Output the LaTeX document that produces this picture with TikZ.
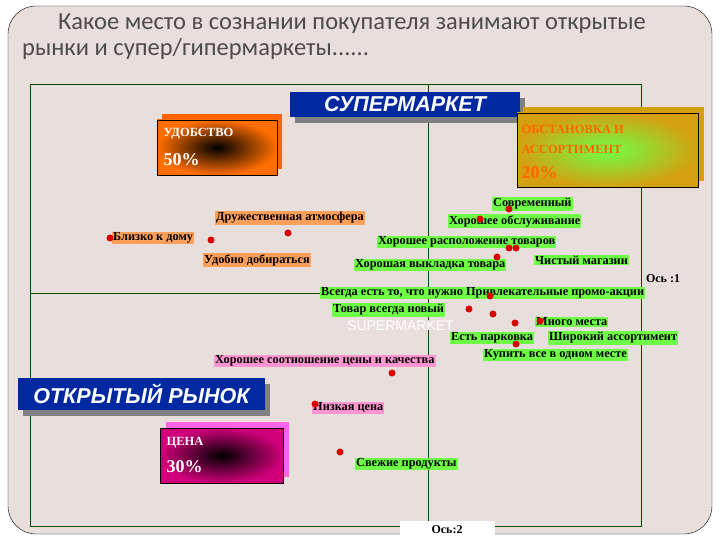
\documentclass[tikz,border=0pt]{standalone}
\usepackage{fontspec}
\setmainfont{Liberation Serif}
\newfontfamily\titlefont{Carlito}
\newfontfamily\boxfont{Liberation Sans}
\definecolor{bgc}{RGB}{232,223,220}
\definecolor{orng}{RGB}{255,110,0}
\definecolor{gold}{RGB}{212,160,16}
\definecolor{magc}{RGB}{208,0,122}
\definecolor{pinkc}{RGB}{255,100,230}
\definecolor{lorange}{RGB}{255,160,90}
\definecolor{lgreen}{RGB}{110,255,70}
\definecolor{lpink}{RGB}{255,150,210}
\definecolor{dblue}{RGB}{0,40,160}
\begin{document}
\begin{tikzpicture}[x=1pt,y=-1pt,
  lab/.style={anchor=west,inner sep=1pt,font=\fontsize{12.3}{13}\selectfont\bfseries,text=black},
  og/.style={lab,fill=lorange},
  gr/.style={lab,fill=lgreen},
  pk/.style={lab,fill=lpink},
  dot/.style={circle,fill=red!85!black,inner sep=0pt,minimum size=7pt},
  bluebox/.style={fill=dblue,text=white,font=\boxfont\bfseries\itshape\fontsize{21.5}{22}\selectfont,inner sep=0pt}]
\useasboundingbox (0,0) rectangle (720,540);
\fill[white] (0,0) rectangle (720,540);
\draw[fill=bgc] (8,6) [rounded corners=28pt] -- (712,6) -- (712,534) -- (8,534) -- cycle;
\node[anchor=north west,font=\titlefont\fontsize{24.5}{26}\selectfont,text=black!70,align=left,inner sep=0pt] (title) at (22,14) {\hspace*{36pt}Какое место в сознании покупателя занимают открытые\\рынки и супер/гипермаркеты......};
% frame
\draw[black!70!green,thick] (30,84) rectangle (641,526);
\draw[black!70!green] (428,84) -- (428,526);
\draw[black!70!green] (30,293) -- (641,293);
\node[fill=white,minimum width=95,minimum height=18,inner sep=0pt,font=\fontsize{12}{13}\selectfont\bfseries] (ax2) at (447,530) {Ось:2};
\node[font=\fontsize{12}{13}\selectfont\bfseries,inner sep=0pt] (ax1) at (663,279) {Ось :1};
% supermarket
\fill[gray] (295,98) rectangle (525,123);
\node[bluebox,minimum width=230,minimum height=25] (sm) at (405,104.5) {СУПЕРМАРКЕТ};
\fill[gray] (23,384) rectangle (270,416);
\node[bluebox,minimum width=247,minimum height=32] (om) at (141.5,394) {ОТКРЫТЫЙ РЫНОК};
% udobstvo
\fill[orng!90!red] (162,114) rectangle (282,169);
\node[draw=black,minimum width=120,minimum height=55,inner sep=0pt,inner color=black,outer color=orng] (ud) at (217,147.5) {};
\node[anchor=west,text=white,font=\fontsize{12.5}{13}\selectfont\bfseries] (udt) at (160,134) {УДОБСТВО};
\node[anchor=west,text=white,font=\fontsize{18}{19}\selectfont\bfseries] (udp) at (160,160) {50\%};
% obstanovka
\fill[gold] (523,107) rectangle (704,181);
\node[draw=black,minimum width=181,minimum height=74,inner sep=0pt,inner color=lgreen,outer color=gold] (ob) at (607.5,150) {};
\node[anchor=west,text=orange!80!red,font=\fontsize{12.5}{13}\selectfont\bfseries] (obt) at (518,129) {ОБСТАНОВКА И};
\node[anchor=west,text=orange!80!red,font=\fontsize{12.5}{13}\selectfont\bfseries] (obt2) at (518,149) {АССОРТИМЕНТ};
\node[anchor=west,text=orange!80!red,font=\fontsize{18}{19}\selectfont\bfseries] (obp) at (518,173) {20\%};
% tsena
\fill[pinkc] (166,422) rectangle (289,477);
\node[draw=black,minimum width=123,minimum height=55,inner sep=0pt,inner color=black,outer color=magc] (ts) at (221.5,455.5) {};
\node[anchor=west,text=white!90!pink,font=\fontsize{12.5}{13}\selectfont\bfseries] (tst) at (163,443) {ЦЕНА};
\node[anchor=west,text=white!90!pink,font=\fontsize{18}{19}\selectfont\bfseries] (tsp) at (163,467) {30\%};
% labels
\node[og] (l1) at (215,218) {Дружественная атмосфера};
\node[og] (l2) at (112,238) {Близко к дому};
\node[og] (l3) at (203,260) {Удобно добираться};
\node[gr] (g1) at (492,204) {Современный};
\node[gr] (g2) at (448,221) {Хорошее обслуживание};
\node[gr] (g3) at (377,242) {Хорошее расположение товаров};
\node[gr] (g4) at (354,265) {Хорошая выкладка товара};
\node[gr] (g5) at (534,260) {Чистый магазин};
\node[gr] (g6) at (320,293) {Всегда есть то, что нужно Привлекательные промо-акции};
\node[gr] (g7) at (332,310) {Товар всегда новый};
\node[lab,text=white,font=\boxfont\fontsize{14}{15}\selectfont] (sup) at (346,326) {SUPERMARKET};
\node[gr] (g8) at (535,322) {Много места};
\node[gr] (g9) at (450,338) {Есть парковка};
\node[gr] (g10) at (548,338) {Широкий ассортимент};
\node[gr] (g11) at (483,355) {Купить все в одном месте};
\node[pk] (p1) at (214,361) {Хорошее соотношение цены и качества};
\node[pk] (p2) at (312,408) {Низкая цена};
\node[gr] (g12) at (355,464) {Свежие продукты};
% dots
\foreach \i/\x/\y in {1/110/238,2/211/240,3/288/233,4/509/209,5/480/219,6/509/248,7/516/248,8/497/257,9/490/296,10/469/309,11/493/314,12/515/323,13/540/321,14/516/344,15/392/373,16/315/404,17/340/452}
  \node[dot] (d\i) at (\x,\y) {};
\end{tikzpicture}
\end{document}
